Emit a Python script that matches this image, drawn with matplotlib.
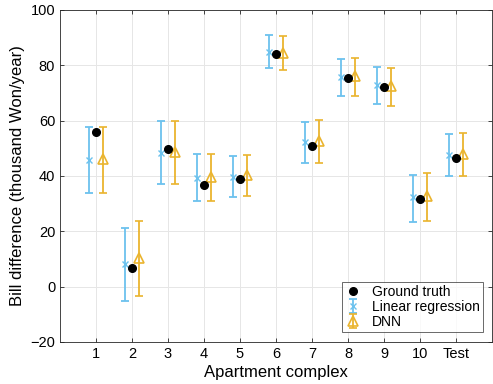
import numpy as np
from matplotlib import pyplot as plt

plt.rcParams['font.family'] = ['Liberation Sans', 'DejaVu Sans']

# ------------------------------------------------------------------------------------------------------------------
#  data
# ------------------------------------------------------------------------------------------------------------------
complex_labels = ["1", "2", "3", "4", "5", "6", "7", "8", "9", "10", "Test"]

ground_truth = [56.0, 6.9, 49.8, 36.8, 38.9, 84.2, 51.0, 75.5, 72.2, 31.8, 46.4]

lr_mean = [45.8, 8.2, 48.4, 39.4, 39.8, 84.9, 52.2, 75.8, 72.9, 32.3, 47.6]
lr_upper = [57.6, 21.3, 59.8, 47.8, 47.3, 90.8, 59.5, 82.3, 79.5, 40.5, 55.3]
lr_lower = [33.9, -5.2, 37.2, 31.0, 32.3, 78.9, 44.7, 68.9, 66.0, 23.5, 40.0]

dnn_mean = [46.0, 10.2, 48.6, 39.6, 40.4, 84.6, 52.7, 76.1, 72.5, 32.8, 48.0]
dnn_upper = [57.6, 23.7, 60.0, 47.8, 47.7, 90.7, 60.1, 82.8, 79.2, 41.2, 55.7]
dnn_lower = [34.0, -3.4, 37.2, 31.0, 32.7, 78.2, 44.6, 68.9, 65.4, 23.9, 40.0]

lr_color = "#6cc2ee"
dnn_color = "#eab42e"

x = np.arange(1, len(complex_labels) + 1)
lr_mean_a = np.array(lr_mean)
dnn_mean_a = np.array(dnn_mean)
lr_err = [lr_mean_a - np.array(lr_lower), np.array(lr_upper) - lr_mean_a]
dnn_err = [dnn_mean_a - np.array(dnn_lower), np.array(dnn_upper) - dnn_mean_a]

fig = plt.figure(figsize=(4.93, 3.84), dpi=100)
ax = fig.add_axes([0.1217, 0.1094, 0.8763, 0.8646])

ax.grid(True, color="#e6e6e6", linewidth=0.7, zorder=0)
ax.set_axisbelow(True)

# ground truth in the middle, the two models shifted left / right
ax.plot(x, ground_truth, "o", color="black", markersize=5.5, label="Ground truth", zorder=4)
ax.errorbar(x - 0.2, lr_mean, yerr=lr_err, fmt="x", color=lr_color, ecolor=lr_color, markersize=4,
            elinewidth=1.3, capsize=3, capthick=1.3, label="Linear regression", zorder=3)
ax.errorbar(x + 0.2, dnn_mean, yerr=dnn_err, fmt="^", color=dnn_color, ecolor=dnn_color,
            markerfacecolor="none", markeredgewidth=1.2, markersize=7,
            elinewidth=1.3, capsize=3, capthick=1.3, label="DNN", zorder=3)

ax.set_xlim(0, 12)
ax.set_ylim(-20, 100)
ax.set_xticks(x)
ax.set_xticklabels(complex_labels)
ax.set_yticks(np.arange(-20, 101, 20))
ax.tick_params(direction="in", top=True, right=True, length=3, width=0.6, labelsize=10.5,
               colors="#262626", labelcolor="black")
for sp in ax.spines.values():
    sp.set_color("#262626")
    sp.set_linewidth(0.6)

ax.set_xlabel("Apartment complex", fontsize=12, labelpad=3)
ax.set_ylabel("Bill difference (thousand Won/year)", fontsize=12, labelpad=4)

leg = ax.legend(loc="lower right", bbox_to_anchor=(0.98, 0.03), fontsize=10, frameon=True,
                fancybox=False, edgecolor="#262626", handlelength=1.0, handletextpad=0.9,
                borderpad=0.25, labelspacing=0.05, borderaxespad=0)
leg.get_frame().set_linewidth(0.6)

fig.savefig("out.png", dpi=100)
